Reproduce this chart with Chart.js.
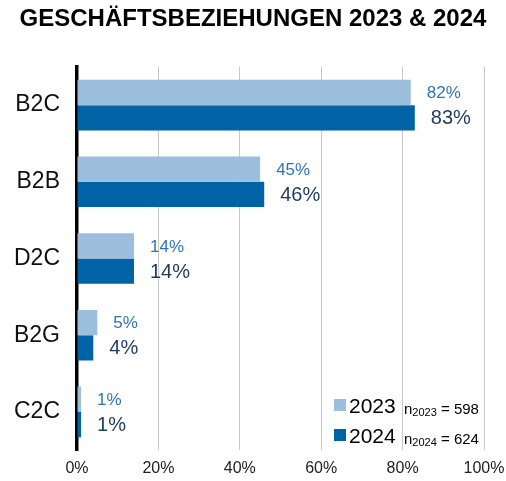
<html>
<head>
    <script src="https://cdn.jsdelivr.net/npm/chart.js"></script>
    <style>
        body { margin: 0; background: #fff; }
        #wrap { width: 506px; height: 481px; }
    </style>
</head>
<body>
    <div id="wrap"><canvas id="chart"></canvas></div>
<script>
    var categories = ['B2C', 'B2B', 'D2C', 'B2G', 'C2C'];
    var values2023 = [82, 45, 14, 5, 1];
    var values2024 = [83, 46, 14, 4, 1];
    var seriesNames = ['2023', '2024'];
    var sampleSizes = ['598', '624'];
    var xTicks = [0, 20, 40, 60, 80, 100];

    var FONT = '"Liberation Sans", Arial, sans-serif';
    var light = '#9bbfdc';
    var dark = '#0063a6';

    // value labels right of each bar
    var barLabels = {
        id: 'barLabels',
        afterDatasetsDraw: function(chart) {
            var ctx = chart.ctx;
            var styles = [
                { color: '#2e75b6', size: 17 },
                { color: '#1f3a5f', size: 20 }
            ];
            chart.data.datasets.forEach(function(ds, i) {
                var meta = chart.getDatasetMeta(i);
                ctx.save();
                ctx.fillStyle = styles[i].color;
                ctx.font = styles[i].size + 'px ' + FONT;
                ctx.textAlign = 'left';
                ctx.textBaseline = 'middle';
                meta.data.forEach(function(bar, j) {
                    ctx.fillText(ds.data[j] + '%', bar.x + 16, bar.y + 1);
                });
                ctx.restore();
            });
        }
    };

    // legend with sample sizes, bottom right
    var customLegend = {
        id: 'customLegend',
        afterDraw: function(chart) {
            var ctx = chart.ctx;
            var colors = [light, dark];
            var baselines = [413, 443];
            ctx.save();
            for (var i = 0; i < 2; i++) {
                var b = baselines[i];
                ctx.fillStyle = colors[i];
                ctx.fillRect(334, b - 14, 12, 12);
                ctx.fillStyle = '#000';
                ctx.textBaseline = 'alphabetic';
                ctx.textAlign = 'left';
                ctx.font = '21px ' + FONT;
                ctx.fillText(seriesNames[i], 349, b);
                ctx.font = '15px ' + FONT;
                ctx.fillText('n', 404, b + 1);
                var nw = ctx.measureText('n').width;
                ctx.font = '11px ' + FONT;
                ctx.fillText(seriesNames[i], 404 + nw, b + 3);
                var sw = ctx.measureText(seriesNames[i]).width;
                ctx.font = '15px ' + FONT;
                ctx.fillText(' = ' + sampleSizes[i], 404 + nw + sw, b + 1);
            }
            ctx.restore();
        }
    };

    new Chart(document.getElementById('chart'), {
        type: 'bar',
        data: {
            labels: categories,
            datasets: [{
                label: seriesNames[0],
                data: values2023,
                backgroundColor: light,
                categoryPercentage: 0.66,
                barPercentage: 1.0
            }, {
                label: seriesNames[1],
                data: values2024,
                backgroundColor: dark,
                categoryPercentage: 0.66,
                barPercentage: 1.0
            }]
        },
        options: {
            indexAxis: 'y',
            responsive: true,
            maintainAspectRatio: false,
            animation: false,
            layout: { padding: 0 },
            plugins: {
                legend: { display: false },
                tooltip: { enabled: false },
                title: {
                    display: true,
                    text: 'GESCHÄFTSBEZIEHUNGEN 2023 & 2024',
                    color: '#000',
                    font: { family: FONT, size: 24, weight: 'bold' },
                    padding: { top: 5, bottom: 33 }
                }
            },
            scales: {
                x: {
                    min: 0,
                    max: 100,
                    afterBuildTicks: function(axis) {
                        axis.ticks = xTicks.map(function(v) { return { value: v }; });
                    },
                    afterFit: function(axis) {
                        axis.height = 29;
                        axis.paddingLeft = 0;
                        axis.paddingRight = 22;
                    },
                    grid: { color: '#c8c8c8', lineWidth: 1, drawTicks: false },
                    border: { display: false },
                    ticks: {
                        padding: 9,
                        color: '#222',
                        font: { family: FONT, size: 16 },
                        callback: function(v) { return v + '%'; }
                    }
                },
                y: {
                    grid: { display: false, drawTicks: false },
                    border: { display: true, color: '#000', width: 3.5 },
                    afterFit: function(axis) { axis.width = 77; },
                    ticks: {
                        padding: 17,
                        color: '#111',
                        font: { family: FONT, size: 23 }
                    }
                }
            }
        },
        plugins: [barLabels, customLegend]
    });
</script>
</body>
</html>
